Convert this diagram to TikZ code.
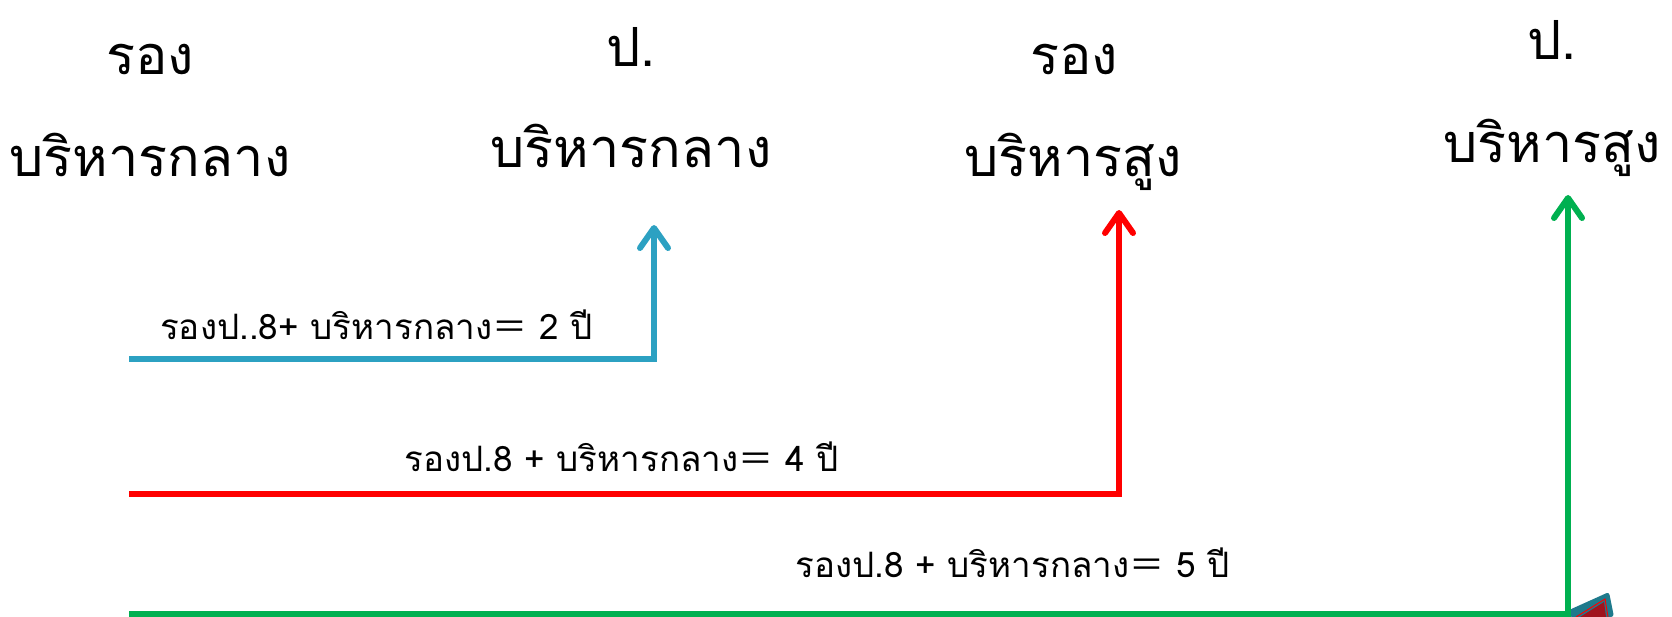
\documentclass[tikz,border=0pt]{standalone}
\usepackage{fontspec}
\newfontfamily\thaifont[Script=Thai]{Loma}
\newfontfamily\cjkfont{Noto Sans CJK SC}
\usetikzlibrary{arrows.meta}
\definecolor{cblue}{HTML}{2CA1C2}
\definecolor{cred}{HTML}{FF0000}
\definecolor{cgreen}{HTML}{00B050}
\definecolor{cteal}{HTML}{1F7A8C}
\definecolor{cdred}{HTML}{A0141E}
\begin{document}
\begin{tikzpicture}[x=1pt,y=-1pt,
 title/.style={font=\thaifont\fontsize{54}{58}\selectfont, inner sep=0pt, anchor=base},
 lbl/.style={font=\thaifont\fontsize{35}{38}\selectfont, inner sep=0pt, anchor=base west},
 conn/.style={line width=6pt, line join=miter, -{Straight Barb[length=20pt,width=28pt,line cap=round,line join=round]}}]
\useasboundingbox (0,0) rectangle (1672,617);
% titles
\node[title] (a1) at (150,75) {รอง};
\node[title] (a2) at (150,177) {บริหารกลาง};
\node[title] (b1) at (631,67) {ป.};
\node[title] (b2) at (631,168) {บริหารกลาง};
\node[title] (c1) at (1074,75) {รอง};
\node[title] (c2) at (1073,177) {บริหารสูง};
\node[title] (d1) at (1552,60) {ป.};
\node[title] (d2) at (1552,163) {บริหารสูง};
% labels
\node[lbl] (l1) at (160,339) {รองป..8+ บริหารกลาง{\cjkfont ＝}\ 2 ปี};
\node[lbl] (l2) at (404,471) {รองป.8 + บริหารกลาง{\cjkfont ＝}\ 4 ปี};
\node[lbl] (l3) at (795,577) {รองป.8 + บริหารกลาง{\cjkfont ＝}\ 5 ปี};
% corner shape
\fill[cteal, rounded corners=3pt] (1569,617) -- (1569,610) -- (1609,592) -- (1614,617) -- cycle;
\fill[cdred] (1580,617) -- (1604,602) -- (1606,617) -- cycle;
\draw[cred, line width=1pt] (1576,617) -- (1605,599) -- (1608,617);
% connectors
\coordinate (s1) at (129,359); \coordinate (e1) at (654,225);
\coordinate (s2) at (129,494); \coordinate (e2) at (1119,210);
\coordinate (s3) at (129,614); \coordinate (e3) at (1568,195);
\draw[conn, cblue] (s1) -| (e1);
\draw[conn, cred] (s2) -| (e2);
\draw[conn, cgreen] (s3) -| (e3);
\end{tikzpicture}
\end{document}
